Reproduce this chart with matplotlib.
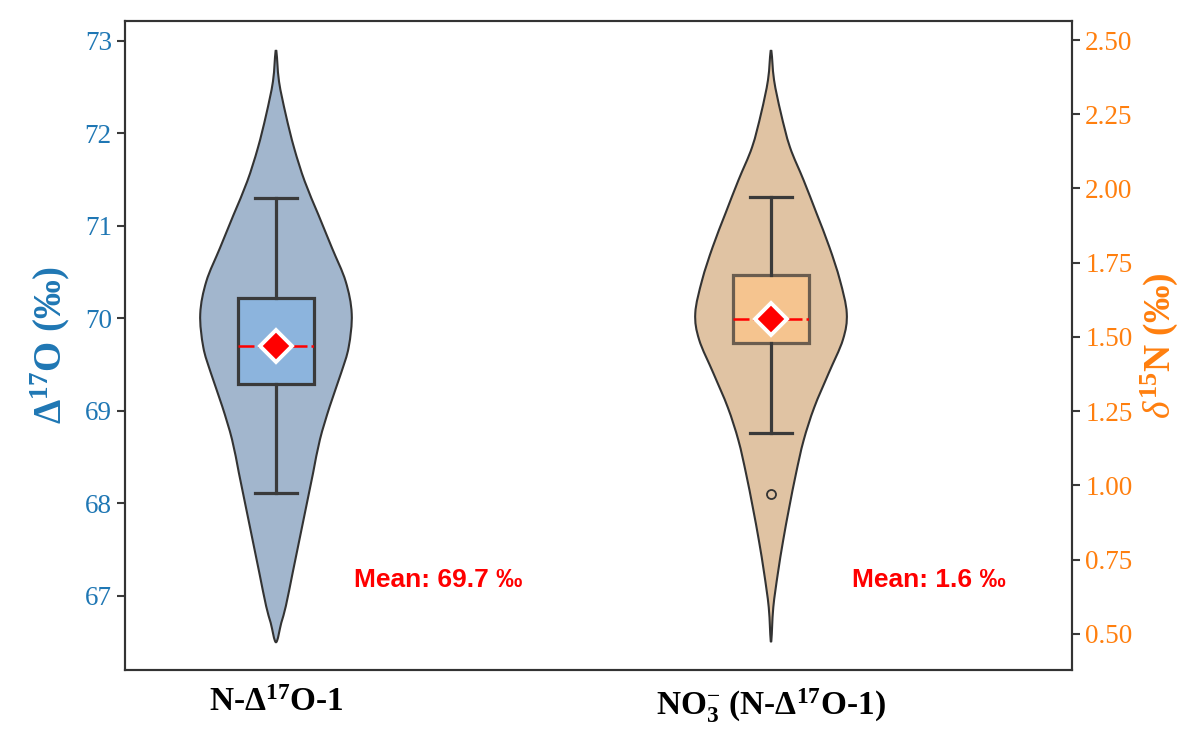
import numpy as np
import matplotlib
matplotlib.use("Agg")
import matplotlib.pyplot as plt
from matplotlib.path import Path
from matplotlib.patches import PathPatch

plt.rcParams['font.family'] = ['Liberation Serif', 'DejaVu Serif']
plt.rcParams['mathtext.fontset'] = 'custom'
plt.rcParams['mathtext.rm'] = 'Liberation Serif'
plt.rcParams['mathtext.it'] = 'Liberation Serif:italic'
plt.rcParams['mathtext.bf'] = 'Liberation Serif:bold'

# category labels
categories = [r'N-$\mathbf{\Delta^{17}}$O-1',
              r'NO$_\mathbf{3}^{-}$ (N-$\mathbf{\Delta^{17}}$O-1)']

# violin profile 1 (Delta17O, left axis): value levels and relative density
v1_levels = [72.90, 72.56, 72.20, 71.84, 71.48, 71.12, 70.76, 70.40, 70.05, 69.69,
             69.41, 69.05, 68.69, 68.33, 67.97, 67.61, 67.25, 66.89, 66.71, 66.50]
v1_dens = [0.0, 0.04, 0.13, 0.24, 0.38, 0.56, 0.74, 0.92, 1.0, 0.96,
           0.86, 0.71, 0.58, 0.49, 0.40, 0.31, 0.22, 0.13, 0.07, 0.0]

# violin profile 2 (delta15N, right axis)
v2_levels = [2.466, 2.365, 2.254, 2.139, 2.028, 1.917, 1.803, 1.691, 1.580, 1.491,
             1.377, 1.262, 1.151, 1.040, 0.925, 0.814, 0.703, 0.589, 0.472]
v2_dens = [0.0, 0.04, 0.13, 0.25, 0.43, 0.60, 0.77, 0.91, 1.0, 0.95,
           0.76, 0.57, 0.43, 0.33, 0.24, 0.16, 0.09, 0.03, 0.0]

# box statistics
box1 = dict(whislo=68.11, q1=69.29, med=69.70, q3=70.22, whishi=71.30, mean=69.70, fliers=[])
box2 = dict(whislo=1.176, q1=1.479, med=1.560, q3=1.708, whishi=1.971, mean=1.560, fliers=[0.971])

mean_labels = ['Mean: 69.7 ‰', 'Mean: 1.6 ‰']

edge = '#3a3a3a'
blue = '#1f77b4'
orange = '#ff7f0e'


def violin(a, pos, levels, dens, hw, color):
    # closed outline through the profile points, drawn as a smooth bezier path
    lv = np.array(levels)
    d = np.array(dens) * hw
    right = np.column_stack([pos + d, lv])
    left = np.column_stack([pos - d[::-1], lv[::-1]])[1:-1]
    pts = np.vstack([right, left])
    n = len(pts)
    verts = [pts[0]]
    codes = [Path.MOVETO]
    for i in range(n):
        p0, p1, p2, p3 = pts[i - 1], pts[i], pts[(i + 1) % n], pts[(i + 2) % n]
        verts += [p1 + (p2 - p0) / 6, p2 - (p3 - p1) / 6, p2]
        codes += [Path.CURVE4] * 3
    patch = PathPatch(Path(verts, codes), facecolor=color, edgecolor='#333333',
                      lw=1.5, zorder=1)
    a.add_patch(patch)


fig = plt.figure(figsize=(11.79, 7.36), dpi=100)
ax = fig.add_axes([125/1179, 66/736, 947/1179, 649/736])
ax2 = ax.twinx()

hw = 0.153  # violin half width
violin(ax, 0, v1_levels, v1_dens, hw, '#a2b6cd')
violin(ax2, 1, v2_levels, v2_dens, hw, '#e0c3a3')

bp_kw = dict(widths=0.155, capwidths=0.083, patch_artist=True, showmeans=True,
             medianprops=dict(color='red', ls='-.', lw=1.8),
             meanprops=dict(marker='D', markerfacecolor='red', markeredgecolor='white',
                            markeredgewidth=2.8, markersize=16),
             whiskerprops=dict(color=edge, lw=2.3),
             capprops=dict(color=edge, lw=2.3),
             flierprops=dict(marker='o', markerfacecolor='none', markeredgecolor='#333333',
                             markersize=6.5, markeredgewidth=1.3),
             zorder=3)
b1 = ax.bxp([box1], positions=[0], **bp_kw)
b2 = ax2.bxp([box2], positions=[1], **bp_kw)
for p in b1['boxes']:
    p.set_facecolor('#8cb4dd')
    p.set_edgecolor(edge)
    p.set_linewidth(2.3)
for p in b2['boxes']:
    p.set_facecolor('#f5c48f')
    p.set_edgecolor('#6b5d4f')
    p.set_linewidth(2.3)

ax.set_xlim(-0.305, 1.608)
ax.set_ylim(66.20, 73.214)
ax2.set_ylim(0.378, 2.564)
ax.set_yticks([67, 68, 69, 70, 71, 72, 73])
ax2.set_yticks([0.5, 0.75, 1.0, 1.25, 1.5, 1.75, 2.0, 2.25, 2.5])
ax2.set_yticklabels(['%.2f' % t for t in ax2.get_yticks()])

ax.set_xticks([0, 1])
ax.set_xticklabels(categories, fontsize=24, fontweight='bold')
ax.tick_params(axis='x', length=0, pad=12)
ax.tick_params(axis='y', colors=edge, labelcolor=blue, labelsize=19.5, length=6, width=1.5)
ax2.tick_params(axis='y', colors=edge, labelcolor=orange, labelsize=19.5, length=6, width=1.5)

ax.set_ylabel(r'$\mathbf{\Delta^{17}O}$ (‰)', color=blue, fontsize=28, fontweight='bold', labelpad=9)
ax2.set_ylabel(r'$\delta^{\mathbf{15}}\mathbf{N}$ (‰)', color=orange, fontsize=27,
               fontweight='bold', labelpad=4, rotation=90)

for a in (ax, ax2):
    for s in a.spines.values():
        s.set_color('#333333')
        s.set_linewidth(1.5)

ax.text(0.327, 67.17, mean_labels[0], color='red', fontsize=19, fontweight='bold',
        family='Liberation Sans', ha='center', va='center', zorder=5)
ax.text(1.319, 67.17, mean_labels[1], color='red', fontsize=19, fontweight='bold',
        family='Liberation Sans', ha='center', va='center', zorder=5)

fig.savefig('out.png', dpi=100)
